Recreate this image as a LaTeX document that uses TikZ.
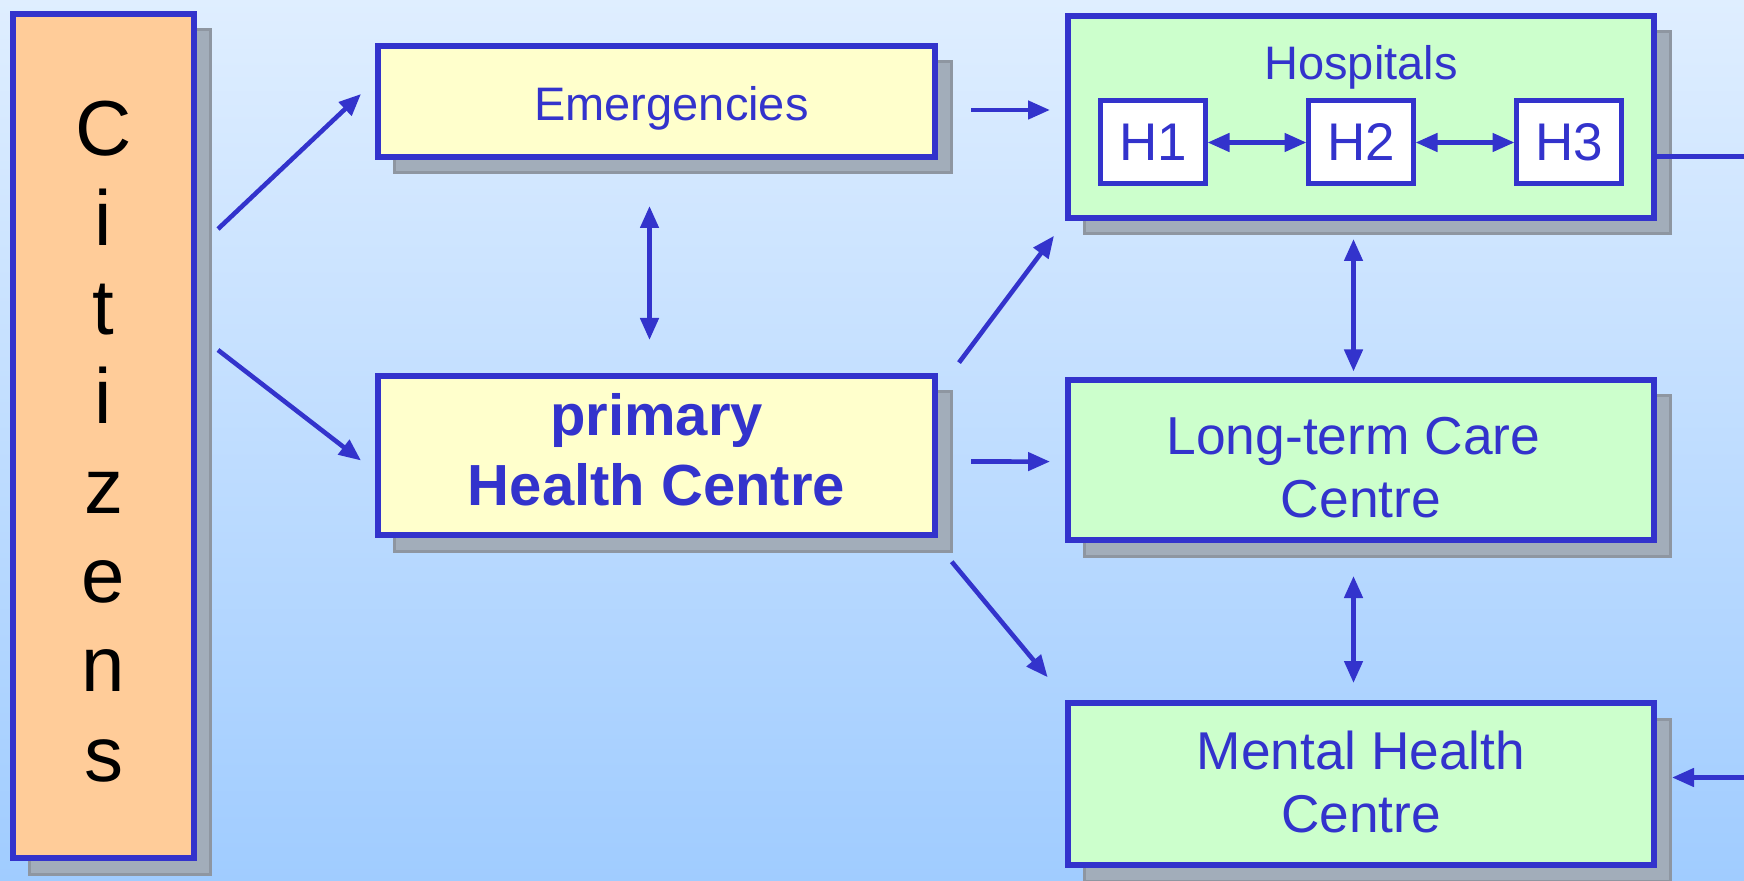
\documentclass[tikz,border=0pt]{standalone}
\usepackage{fontspec}
\setmainfont{Liberation Sans}
\usetikzlibrary{arrows.meta,shadows,calc}

\definecolor{ink}{HTML}{3333CC}
\definecolor{bgtop}{HTML}{DFEEFF}
\definecolor{bgbot}{HTML}{A0CCFF}
\definecolor{peach}{HTML}{FFCC99}
\definecolor{paleyellow}{HTML}{FFFFCC}
\definecolor{palegreen}{HTML}{CCFFCC}
\definecolor{shadowfill}{HTML}{A2ADBA}
\definecolor{shadowedge}{HTML}{8E96A1}

\begin{document}
\begin{tikzpicture}[x=0.5pt,y=-0.5pt,
	box/.style={draw=ink, line width=3pt, outer sep=0pt, inner sep=0pt,
		drop shadow={shadow xshift=8pt, shadow yshift=-8pt, fill=shadowfill, draw=shadowedge, line width=1.5pt, opacity=1}},
	boxtext/.style={align=center, text=ink, inner sep=0pt},
	hbox/.style={draw=ink, line width=2.5pt, fill=white, outer sep=0pt, inner sep=0pt,
		minimum width=52.5pt, minimum height=41.5pt, text=ink, font=\fontsize{26.5}{30}\selectfont},
	arr/.style={-{Triangle[length=11pt,width=9pt]}, line width=2.3pt, draw=ink},
	dblarr/.style={{Triangle[length=11pt,width=9pt]}-{Triangle[length=11pt,width=9pt]}, line width=2.3pt, draw=ink}]
	
	% Draw the background.
	\shade[top color=bgtop, bottom color=bgbot] (0,0) rectangle (1744,881);
	\useasboundingbox (0,0) rectangle (1744,881);
	
	% Draw the boxes.
	\node[box, fill=peach, minimum width=90.5pt, minimum height=422pt] (cit) at (103.5,436) {};
	\node[box, fill=paleyellow, minimum width=278.5pt, minimum height=55.5pt] (emerg) at (656.5,101.5) {};
	\node[box, fill=paleyellow, minimum width=278.5pt, minimum height=79.5pt] (phc) at (656.5,455.5) {};
	\node[box, fill=palegreen, minimum width=293pt, minimum height=101pt] (hosp) at (1361,117) {};
	\node[box, fill=palegreen, minimum width=293pt, minimum height=80pt] (lt) at (1361,460) {};
	\node[box, fill=palegreen, minimum width=293pt, minimum height=81pt] (mhc) at (1361,784) {};
	
	% Write the texts of the boxes.
	\node[boxtext, font=\fontsize{23.5}{28}\selectfont] (emergtext) at ($(emerg)+(15,6.5)$) {Emergencies};
	\node[boxtext, font=\fontsize{29}{35}\selectfont\bfseries] (phctext) at ($(phc)+(0,-5.5)$) {primary\\Health Centre};
	\node[boxtext, font=\fontsize{23.5}{28}\selectfont] (hosptext) at (1361,67.5) {Hospitals};
	\node[boxtext, font=\fontsize{26.7}{31.5}\selectfont] (lttext) at ($(lt)+(0,8)$) {Long-term Care\hspace*{.28em}\\Centre};
	\node[boxtext, font=\fontsize{26.6}{31.5}\selectfont] (mhctext) at ($(mhc)+(0,-2)$) {Mental Health\\Centre};
	
	% Draw the letters of the citizens column.
	\foreach \l [count=\k] in {C,i,t,i,z,e,n,s}{
		\node[anchor=base, inner sep=0pt, font=\fontsize{39}{48}\selectfont] (c\k) at (103.5,{156+89.3*(\k-1)}) {\l};
	}
	
	% Draw the hospitals inside.
	\foreach \x [count=\k] in {1153,1361,1569}{
		\node[hbox] (h\k) at (\x,142.5) {H\k};
	}
	\draw[dblarr, shorten <=1pt, shorten >=1pt] (h1.east) -- (h2.west);
	\draw[dblarr, shorten <=1pt, shorten >=1pt] (h2.east) -- (h3.west);
	
	% Draw the arrows from the citizens.
	\draw[arr] ($(cit.east)+(24,-207)$) -- ($(emerg.west)+(-17,-7.5)$);
	\draw[arr] ($(cit.east)+(24,-86)$) -- ($(phc.west)+(-17,5)$);
	
	% Draw the arrows from the primary care.
	\draw[dblarr] ($(emerg.south)+(-7,49)$) -- ($(phc.north)+(-7,-36)$);
	\draw[arr] ($(emerg.east)+(36,8.5)$) -- ($(hosp.west)+(-18,-7)$);
	\draw[arr] ($(phc.north east)+(24,-13.4)$) -- ($(hosp.south west)+(-14,17.8)$);
	\draw[arr] ($(phc.east)+(36,6)$) -- ($(lt.west)+(-18,1.6)$);
	\draw[arr] ($(phc.south east)+(16.7,26.7)$) -- ($(mhc.north west)+(-20.3,-25.7)$);
	
	% Draw the arrows between the care centres.
	\draw[dblarr] ($(hosp.south)+(-7.5,21)$) -- ($(lt.north)+(-7.5,-8.5)$);
	\draw[dblarr] ($(lt.south)+(-7.5,36)$) -- ($(mhc.north)+(-7.5,-20)$);
	
	% Draw the lines leaving the picture.
	\coordinate (hospout) at (1744,157);
	\coordinate (mhcin) at (1744,777.5);
	\draw[line width=2.5pt, draw=ink] (hospout -| hosp.east) -- (hospout);
	\draw[arr] (mhcin) -- ($(mhcin -| mhc.east)+(18,0)$);
	
\end{tikzpicture}
\end{document}
